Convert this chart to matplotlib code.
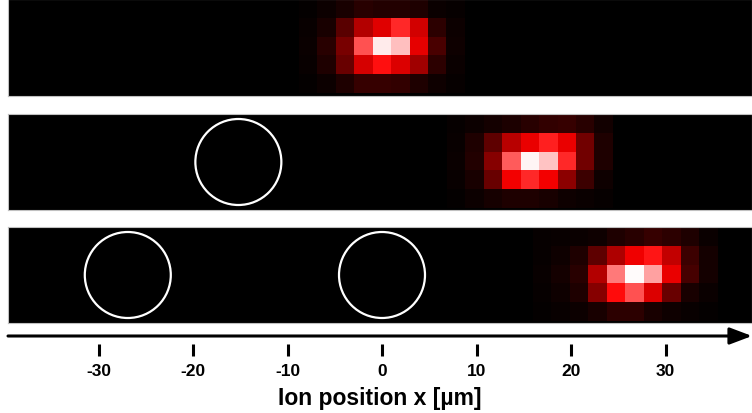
import numpy as np
import matplotlib
matplotlib.use('Agg')
import matplotlib.pyplot as plt
from matplotlib.colors import LinearSegmentedColormap
from matplotlib.patches import Circle

# fluorescence images of the ion, counts scaled 0..510 (R+G of the false colour)
blob_top = [
    [5, 12, 25, 40, 35, 35, 30, 10, 6],
    [8, 25, 90, 180, 225, 295, 210, 45, 12],
    [10, 40, 120, 335, 490, 445, 230, 75, 15],
    [8, 30, 105, 215, 270, 220, 160, 45, 10],
    [5, 12, 30, 55, 55, 50, 30, 15, 6],
]
blob_mid = [
    [6, 12, 20, 28, 40, 50, 55, 40, 18],
    [8, 30, 95, 185, 235, 285, 235, 115, 30],
    [10, 35, 135, 345, 500, 450, 295, 115, 30],
    [8, 25, 105, 245, 295, 245, 140, 60, 15],
    [5, 12, 22, 30, 30, 25, 15, 10, 6],
]
blob_bot = [
    [6, 8, 10, 15, 30, 40, 55, 45, 30, 10],
    [6, 15, 30, 95, 175, 240, 275, 195, 60, 20],
    [8, 20, 40, 180, 375, 505, 415, 235, 70, 20],
    [6, 15, 30, 135, 265, 335, 220, 105, 25, 10],
    [5, 8, 12, 25, 45, 45, 25, 15, 8, 5],
]
# position (um) of the brightest column, and index of that column in the blob
blob_centers = [0.0, 15.66, 26.7]
center_cols = [4, 4, 5]
# dark spots (empty sites) marked by circles, um
circles = [[], [-15.2], [-26.9, 0.0]]

tick_vals = [-30, -20, -10, 0, 10, 20, 30]
xlabel = 'Ion position x [\u00b5m]'

W, H = 752, 414
px_per_um = 9.45
x0_px = 382
pix = 1.95          # camera pixel size in um
radius = 4.55

xmin = (8 - x0_px) / px_per_um
xmax = (W - x0_px) / px_per_um

cmap = LinearSegmentedColormap.from_list('redhot', ['black', 'red', 'white'])

fig = plt.figure(figsize=(W / 100, H / 100), dpi=100)
fonts = ['Liberation Sans', 'DejaVu Sans']

panels = [(0, 97), (115, 211), (228, 324)]
blobs = [blob_top, blob_mid, blob_bot]

for (top, bot), blob, xc, cc, circ in zip(panels, blobs, blob_centers, center_cols, circles):
    ax = fig.add_axes([8 / W, 1 - bot / H, (W - 8) / W, (bot - top) / H])
    ax.set_facecolor('black')
    h_um = (bot - top) / px_per_um
    data = np.array(blob, dtype=float)
    nrow, ncol = data.shape
    left = xc - (cc + 0.5) * pix
    ax.imshow(data, cmap=cmap, vmin=0, vmax=510, interpolation='nearest',
              extent=[left, left + ncol * pix, h_um - nrow * pix * 1.02, h_um],
              aspect='auto')
    for cx in circ:
        ax.add_patch(Circle((cx, h_um / 2), radius, fill=False, ec='white', lw=1.6))
    ax.set_xlim(xmin, xmax)
    ax.set_ylim(0, h_um)
    ax.set_xticks([])
    ax.set_yticks([])
    for s in ax.spines.values():
        s.set_color('#c0c0c0')
        s.set_linewidth(0.8)

# axis with arrow
axb = fig.add_axes([8 / W, 1 - 345 / H, (W - 8) / W, 15 / H])
axb.set_xlim(xmin, xmax)
axb.set_ylim(0, 15)
axb.patch.set_visible(False)
for s in axb.spines.values():
    s.set_visible(False)
axb.set_yticks([])
axb.set_xticks(tick_vals)
axb.set_xticklabels([str(t) for t in tick_vals], fontsize=12.5, fontweight='bold', family=fonts)
axb.tick_params(axis='x', length=8.5, width=2.2, pad=5, color='black')
axb.annotate('', xy=(1.0, 8 / 15), xytext=(0.0, 8 / 15),
             xycoords='axes fraction', textcoords='axes fraction',
             arrowprops=dict(arrowstyle='-|>,head_length=0.45,head_width=0.17',
                             mutation_scale=30, lw=2.2, color='black',
                             shrinkA=0, shrinkB=0))
axb.set_xlabel(xlabel, fontsize=16.5, fontweight='bold', family=fonts, labelpad=6)

fig.savefig('out.png', dpi=100, facecolor='white')
